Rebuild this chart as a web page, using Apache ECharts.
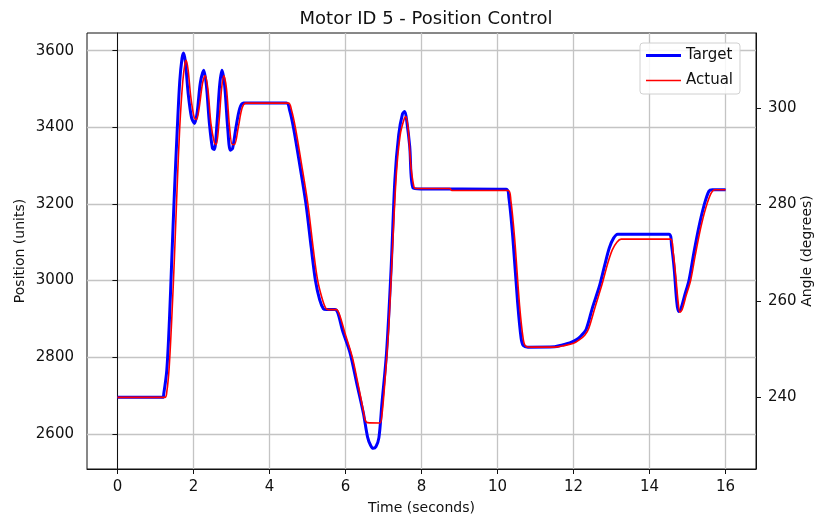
<!DOCTYPE html>
<html>
<head>
<meta charset="utf-8">
<script src="https://cdn.jsdelivr.net/npm/echarts@6/dist/echarts.min.js"></script>
<style>
  html, body { margin: 0; padding: 0; background: #fff; }
  #chart { width: 816px; height: 517px; }
</style>
</head>
<body>
<div id="chart"></div>
<script>
// Target (blue) samples: time in seconds, position in units
const targetTime = [0, 1.19, 1.22, 1.30, 1.37, 1.43, 1.50, 1.57, 1.64, 1.70, 1.74, 1.79, 1.86, 1.95, 2.03, 2.10, 2.18, 2.27,
    2.34, 2.42, 2.50, 2.55, 2.62, 2.69, 2.75, 2.82, 2.90, 2.97, 3.03, 3.12, 3.22, 3.32, 4.45, 4.53, 4.63, 4.80, 4.96,
    5.10, 5.21, 5.32, 5.42, 5.50, 5.72, 5.80, 5.92, 6.12, 6.30, 6.47, 6.58, 6.66, 6.73, 6.80, 6.88, 6.96, 7.08, 7.20,
    7.30, 7.40, 7.50, 7.56, 7.62, 7.69, 7.78, 8.00, 10.23, 10.30, 10.40, 10.53, 10.62, 10.68, 10.80, 11.50,
    11.71, 11.90, 12.07, 12.20, 12.33, 12.50, 12.68, 12.82, 12.94, 13.05, 13.16, 14.51, 14.58, 14.65, 14.71,
    14.76, 14.82, 14.92, 15.04, 15.17, 15.30, 15.43, 15.56, 15.65, 16.00];
const targetPos = [2695, 2695, 2705, 2767, 2900, 3054, 3230, 3385, 3520, 3580, 3594, 3570, 3490, 3425, 3410, 3440, 3515, 3549,
    3510, 3410, 3345, 3342, 3410, 3510, 3549, 3510, 3400, 3340, 3345, 3400, 3450, 3463, 3463, 3445, 3400, 3300, 3200,
    3085, 3000, 2950, 2926, 2924, 2924, 2915, 2870, 2811, 2730, 2654, 2592, 2570, 2562, 2566, 2590, 2680, 2811, 3030,
    3263, 3380, 3435, 3441, 3410, 3350, 3241, 3239, 3238, 3215, 3115, 2941, 2850, 2830, 2826, 2827,
    2832, 2837, 2845, 2856, 2872, 2930, 2985, 3040, 3085, 3110, 3121, 3121, 3090, 3028, 2950,
    2919, 2925, 2960, 3002, 3075, 3141, 3195, 3233, 3237, 3237];

// Actual (red) samples
const actualTime = [0, 1.25, 1.30, 1.36, 1.43, 1.50, 1.57, 1.64, 1.72, 1.78, 1.81, 1.86, 1.93, 2.02, 2.08, 2.15, 2.24, 2.31,
    2.38, 2.46, 2.55, 2.60, 2.67, 2.74, 2.80, 2.87, 2.95, 3.02, 3.08, 3.18, 3.28, 3.38, 4.50, 4.58, 4.68, 4.85, 5.01,
    5.15, 5.26, 5.38, 5.48, 5.56, 5.76, 5.84, 5.98, 6.18, 6.35, 6.47, 6.52, 6.58, 6.90, 6.96, 7.04, 7.14, 7.24,
    7.34, 7.44, 7.54, 7.59, 7.65, 7.72, 7.80, 7.85, 8.74, 8.80, 10.28, 10.35, 10.45, 10.58, 10.68, 10.75,
    10.90, 11.50, 11.75, 12.00, 12.15, 12.30, 12.40, 12.58, 12.75, 12.90, 13.02, 13.14, 13.25, 14.55, 14.62,
    14.69, 14.75, 14.80, 14.86, 14.96, 15.08, 15.20, 15.34, 15.48, 15.62, 15.72, 16.00];
const actualPos = [2695, 2695, 2710, 2770, 2900, 3060, 3240, 3400, 3520, 3568, 3575, 3550, 3480, 3425, 3420, 3450, 3515, 3535,
    3500, 3410, 3360, 3355, 3410, 3500, 3535, 3500, 3400, 3355, 3355, 3400, 3450, 3463, 3463, 3445, 3400, 3300, 3200,
    3085, 3005, 2955, 2928, 2924, 2924, 2912, 2865, 2800, 2720, 2660, 2635, 2629, 2628, 2650, 2740, 2880, 3090,
    3280, 3380, 3420, 3428, 3395, 3300, 3245, 3240, 3240, 3235, 3235, 3210, 3110, 2935, 2845, 2828,
    2826, 2826, 2830, 2836, 2845, 2858, 2875, 2935, 2990, 3045, 3080, 3100, 3108, 3108, 3075,
    3010, 2945, 2917, 2925, 2960, 3000, 3065, 3135, 3190, 3228, 3237, 3237];

const xTicks = [0, 2, 4, 6, 8, 10, 12, 14, 16];
const posTicks = [2600, 2800, 3000, 3200, 3400, 3600];
const angleTicks = [240, 260, 280, 300];

const font = 'DejaVu Sans';
const chart = echarts.init(document.getElementById('chart'));

const pairs = (ts, vs) => ts.map((t, i) => [t, vs[i]]);
const plain = v => String(v);

const option = {
    animation: false,
    textStyle: { fontFamily: font },
    title: {
        text: 'Motor ID 5 - Position Control',
        left: 421, top: 5, textAlign: 'center',
        textStyle: { fontFamily: font, fontSize: 18, fontWeight: 'normal', color: '#111' }
    },
    legend: {
        left: 640, top: 43,
        orient: 'vertical',
        itemWidth: 35, itemHeight: 14, itemGap: 10, itemTextGap: 10,
        padding: [5, 7, 6, 6],
        backgroundColor: 'rgba(255,255,255,0.85)',
        borderColor: '#d0d0d0', borderWidth: 1, borderRadius: 3,
        textStyle: { fontFamily: font, fontSize: 15, color: '#111' },
        data: [
            { name: 'Target', icon: 'path://M0,0L35,0L35,3L0,3Z' },
            { name: 'Actual', icon: 'path://M0,0L35,0L35,1.6L0,1.6Z' }
        ]
    },
    grid: {
        left: 87, right: 60, top: 33, bottom: 48,
        outerBoundsMode: 'none',
        show: true, borderColor: '#111', borderWidth: 1, backgroundColor: 'transparent'
    },
    xAxis: {
        type: 'value', min: -0.8, max: 16.8,
        name: 'Time (seconds)', nameLocation: 'middle', nameGap: 32, nameMoveOverlap: false,
        nameTextStyle: { fontFamily: font, fontSize: 14, color: '#111' },
        axisLine: { show: true, onZero: false, lineStyle: { color: '#111' } },
        axisTick: { show: true, length: 5, customValues: xTicks, lineStyle: { color: '#111' } },
        axisLabel: { customValues: xTicks, formatter: plain, margin: 11, fontSize: 15, color: '#111', fontFamily: font },
        splitLine: { show: true, lineStyle: { color: '#c4c4c4', width: 1.3 } }
    },
    yAxis: [{
        type: 'value', min: 2508, max: 3646, position: 'left',
        name: 'Position (units)', nameLocation: 'middle', nameGap: 60, nameRotate: 90, nameMoveOverlap: false,
        nameTextStyle: { fontFamily: font, fontSize: 14, color: '#111' },
        axisLine: { show: true, lineStyle: { color: '#111' } },
        axisTick: { show: true, length: 5, customValues: posTicks, lineStyle: { color: '#111' } },
        axisLabel: { customValues: posTicks, formatter: plain, margin: 13, fontSize: 15, color: '#111', fontFamily: font },
        splitLine: { show: true, lineStyle: { color: '#c4c4c4', width: 1.3 } }
    }, {
        type: 'value', min: 225.1, max: 315.6, position: 'right',
        name: 'Angle (degrees)', nameLocation: 'middle', nameGap: 44, nameRotate: 90, nameMoveOverlap: false,
        nameTextStyle: { fontFamily: font, fontSize: 14, color: '#111' },
        axisLine: { show: true, lineStyle: { color: '#111' } },
        axisTick: { show: true, length: 5, customValues: angleTicks, lineStyle: { color: '#111' } },
        axisLabel: { customValues: angleTicks, formatter: plain, margin: 12, fontSize: 15, color: '#111', fontFamily: font },
        splitLine: { show: false }
    }],
    series: [{
        name: 'Target', type: 'line', yAxisIndex: 0,
        data: pairs(targetTime, targetPos),
        showSymbol: false, symbol: 'none', smooth: 0.3,
        lineStyle: { color: '#0000ff', width: 3 },
        itemStyle: { color: '#0000ff' },
        z: 2
    }, {
        name: 'Actual', type: 'line', yAxisIndex: 0,
        data: pairs(actualTime, actualPos),
        showSymbol: false, symbol: 'none', smooth: 0.3,
        lineStyle: { color: '#ff0000', width: 1.6 },
        itemStyle: { color: '#ff0000' },
        z: 3
    }]
};

chart.setOption(option);
</script>
</body>
</html>
